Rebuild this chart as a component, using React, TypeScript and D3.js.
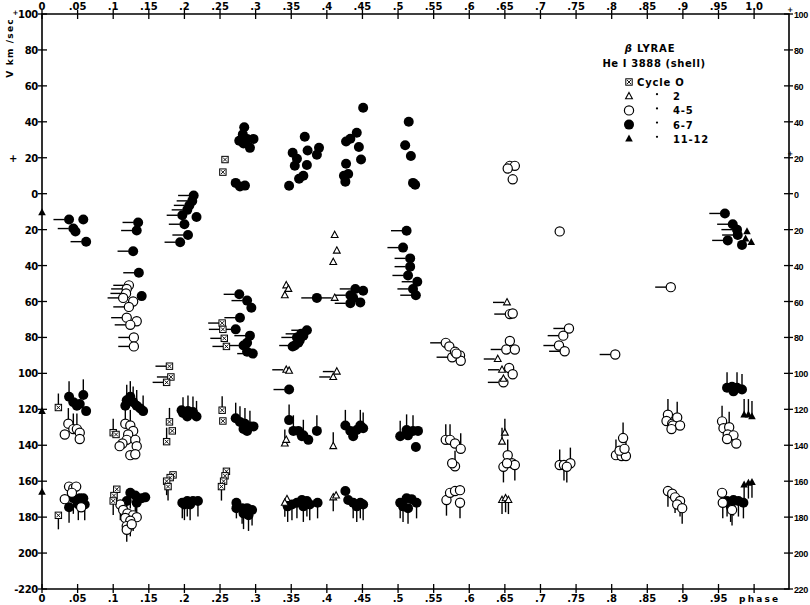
import React from 'react';
import * as d3 from 'd3';

type Pt = [number, number, string];

// phase, velocity (km/s), error-line direction ('l' left, 'u' up, 'd' down, '' none)
const cycle0: Pt[] = [
  [.257,19,''],[.254,12,''],
  [.253,-72,'l'],[.254,-75.5,'l'],[.256,-80.5,'l'],[.259,-85,'l'],
  [.179,-96,'l'],[.181,-102,'l'],[.175,-105,'l'],
  [.023,-119,'u'],[.1,-133,'u'],[.104,-134,''],
  [.179,-127,'u'],[.183,-132,''],[.175,-138,'u'],
  [.253,-120.5,'u'],[.254,-126.5,''],
  [.023,-179,'d'],
  [.105,-164.5,'d'],[.101,-168,''],[.1,-171,'d'],
  [.184,-156.5,''],[.18,-158,''],[.175,-160,'d'],[.177,-163,'d'],
  [.259,-154.5,''],[.257,-157,''],[.255,-160,''],[.252,-163,'d'],
];

const cycle2: Pt[] = [
  [.343,-51,''],[.346,-53,''],[.341,-56.5,''],[.411,-58,'l'],
  [.411,-23,''],[.414,-31.7,''],[.409,-38,''],
  [.343,-98,'l'],[.347,-98.5,''],[.414,-99,'l'],[.409,-102,'l'],
  [.341,-139,'u'],[.343,-137,''],[.409,-140.5,'u'],
  [.344,-170,''],[.341,-172,'d'],[.409,-169,'d'],[.413,-168,''],
  [.653,-60.5,'l'],[.64,-92,'l'],[.646,-98,'l'],[.648,-103,''],
  [.65,-133,'u'],[.646,-138,'u'],
  [.646,-170.5,'d'],[.651,-169.5,'d'],[.655,-170.5,'d'],
];

const cycle45: Pt[] = [
  [.037,-128,'u'],[.032,-134,''],[.044,-131,'u'],[.049,-131,'u'],[.053,-133,''],[.053,-136.5,''],
  [.038,-163,''],[.044,-164,''],[.048,-163,''],[.032,-170,''],[.042,-166.5,''],[.055,-174.5,''],
  [.122,-51,'l'],[.119,-53,'l'],[.118,-55.5,'l'],[.114,-58,'l'],[.128,-60,''],[.122,-63,'l'],
  [.119,-69,'l'],[.133,-71,''],[.124,-73,'l'],[.129,-80,'l'],[.129,-85,'l'],
  [.117,-128,'u'],[.124,-129,'u'],[.128,-132,''],[.121,-134,''],[.119,-137,''],[.113,-139,''],
  [.109,-140.5,''],[.131,-137,''],[.133,-140.5,''],[.124,-145.5,''],[.131,-145,''],
  [.11,-173,'d'],[.114,-176,''],[.12,-178,''],[.128,-179,'d'],[.133,-180,''],[.117,-180.5,''],
  [.124,-182,'d'],[.119,-185,'d'],[.119,-187,''],[.126,-184,''],
  [.567,-83,'l'],[.572,-85,''],[.576,-91,'l'],[.58,-88,''],[.587,-90,''],[.588,-93,''],[.582,-89,''],
  [.567,-137,'u'],[.573,-137,'u'],[.58,-139,''],[.588,-142,'u'],[.58,-151.7,'u'],[.576,-150,''],
  [.568,-170.5,'d'],[.573,-166.5,''],[.58,-165.5,''],[.587,-165,''],[.587,-172,'d'],
  [.657,15.5,''],[.664,15.5,''],[.654,14,''],[.661,8,''],
  [.657,-67,'l'],[.661,-66.7,''],[.657,-82,''],[.652,-86.7,'l'],[.664,-86.7,''],
  [.656,-97,''],[.661,-100.5,''],[.648,-105,'l'],
  [.654,-145.5,'u'],[.66,-150,''],[.664,-151,'d'],[.648,-152,'d'],[.653,-150,''],
  [.727,-21,''],[.74,-75,'l'],[.732,-79,'l'],[.726,-84.5,'l'],[.734,-87.7,'l'],[.805,-89.5,'l'],
  [.727,-151,'u'],[.733,-151,'d'],[.742,-150,'u'],[.737,-152,'d'],
  [.816,-136,'u'],[.806,-145.5,'u'],[.814,-146,''],[.82,-146,'u'],[.811,-143,''],[.818,-142,''],
  [.883,-52,'l'],
  [.879,-123,'u'],[.877,-126.5,''],[.885,-128,''],[.892,-124.5,'u'],[.886,-129,''],[.896,-129,''],[.884,-131,''],
  [.879,-165.5,'d'],[.885,-167,''],[.889,-169,'d'],[.896,-171,'d'],[.892,-173,''],[.899,-175,'d'],
  [.955,-126.7,'u'],[.957,-130.5,''],[.965,-130,'u'],[.963,-134,''],[.971,-134.5,''],[.962,-136.5,''],[.975,-139,''],
  [.955,-166.5,''],[.956,-172,'d'],[.969,-176,'d'],
];

const cycle67: Pt[] = [
  [.038,-14.4,'l'],[.044,-19.4,'l'],[.047,-21,''],[.058,-14.4,''],[.062,-26.7,'l'],
  [.135,-16,'l'],[.133,-20.5,'l'],[.128,-32,'l'],[.136,-44,'l'],[.14,-57,''],
  [.213,-1,'l'],[.211,-4,'l'],[.207,-6.5,'l'],[.204,-9,'l'],[.217,-13,''],[.197,-12,'l'],
  [.2,-17,'l'],[.205,-23,'l'],[.194,-27,'l'],
  [.284,37,''],[.282,33,''],[.277,29.5,''],[.288,30.5,''],[.297,30.5,''],[.292,25.5,''],[.283,28,''],
  [.272,6,''],[.278,4,''],[.285,4.5,''],
  [.369,31.7,''],[.352,22.8,''],[.373,24,''],[.389,25.5,''],[.386,21.7,''],[.358,19.4,''],
  [.372,16,''],[.355,15.5,''],[.367,10,''],[.361,8.3,''],[.347,4.4,''],
  [.451,47.8,''],[.442,33.9,''],[.433,30.6,''],[.427,29,''],[.445,26,''],[.448,19,''],
  [.427,16.7,''],[.43,11,''],[.424,10,''],[.426,6.7,''],
  [.515,40,''],[.51,27,''],[.518,21,''],[.521,6,''],[.524,5,''],
  [.512,-20.6,'l'],[.507,-30,'l'],[.517,-36,'l'],[.517,-40.6,'l'],[.514,-45.5,'l'],
  [.527,-49,'l'],[.521,-53,'l'],[.525,-56.5,'l'],
  [.277,-56,'l'],[.288,-59.5,'l'],[.294,-63.5,''],[.278,-69,'l'],[.272,-75.5,'l'],[.292,-79,'l'],
  [.283,-84.5,'l'],[.288,-83,''],[.296,-89,'l'],[.288,-88,''],
  [.386,-58,'l'],[.44,-53,'l'],[.451,-54,''],[.433,-56.5,'l'],[.437,-58,''],[.447,-60.5,''],[.433,-61,'l'],
  [.372,-76,'l'],[.364,-78,'l'],[.358,-80,'l'],[.362,-81.5,''],[.355,-84.5,'l'],[.352,-85,''],
  [.367,-79,''],[.36,-83,''],
  [.347,-109,'l'],
  [.038,-113,'u'],[.044,-116,''],[.049,-118,''],[.058,-112,'u'],[.053,-117,''],[.062,-121,''],
  [.119,-115,'u'],[.124,-113,'u'],[.128,-116,'u'],[.133,-118,'u'],[.142,-121,'u'],[.138,-119.5,''],[.117,-118,''],
  [.198,-122,'u'],[.205,-121,'u'],[.212,-121.5,'u'],[.217,-124,'u'],[.204,-124,''],[.196,-120.5,''],
  [.272,-125,'u'],[.278,-127,'u'],[.285,-128,'u'],[.292,-129.5,'u'],[.297,-129.5,''],[.283,-131,''],[.288,-132,''],
  [.347,-126,'u'],[.353,-132,'u'],[.36,-132,''],[.367,-134.5,'u'],[.374,-137,''],[.365,-135,''],[.386,-132,'u'],
  [.426,-129,'u'],[.433,-132,''],[.437,-135,''],[.447,-129,'u'],[.451,-130.5,'u'],[.442,-131.5,''],
  [.503,-135,'u'],[.512,-131.5,'u'],[.521,-132,'u'],[.528,-132,''],[.514,-134.5,''],[.525,-141,''],
  [.962,-108,'u'],[.969,-107.5,''],[.976,-108,'u'],[.983,-109,'u'],[.971,-110,''],
  [.044,-169.5,'d'],[.053,-169.5,''],[.058,-169.5,''],[.06,-173,'d'],[.038,-174.5,'d'],[.051,-173,'d'],
  [.124,-166.5,'d'],[.131,-168,'d'],[.14,-169.5,''],[.145,-169,''],[.119,-171,'d'],[.133,-172,'d'],
  [.197,-172,'d'],[.204,-171,'d'],[.212,-171,''],[.219,-171,'d'],[.208,-173,'d'],[.2,-173,'d'],
  [.273,-172,'d'],[.281,-175,'d'],[.288,-175,''],[.295,-176,'d'],[.283,-178,'d'],[.29,-179,'d'],[.273,-175,''],
  [.351,-173,'d'],[.358,-172,'d'],[.365,-170.5,''],[.372,-171,'d'],[.376,-173,'d'],[.387,-172,'d'],
  [.367,-174,'d'],[.345,-174,'d'],
  [.426,-165.5,''],[.43,-170.5,''],[.437,-172,'d'],[.447,-172,'d'],[.451,-173,'d'],[.442,-174,'d'],
  [.503,-172,'d'],[.512,-169.5,''],[.519,-170,''],[.526,-172,'d'],[.507,-174,'d'],[.514,-175,'d'],
  [.962,-171,'d'],[.971,-170.5,'d'],[.978,-171,'d'],[.985,-172,'d'],[.967,-174,'d'],
  [.959,-11,'l'],[.97,-17,'l'],[.976,-20,'l'],[.963,-26,'l'],[.983,-28.5,''],[.977,-23,'l'],
];

const cycle1112: Pt[] = [
  [0.0,-10.5,''],[0.0,-121,''],[0.0,-166,''],
  [.99,-21,''],[.996,-27,''],[.988,-25,''],
  [.986,-123,'u'],[.992,-123,'u'],[.997,-124,'u'],
  [.986,-162,'d'],[.992,-161,'d'],[.997,-160.5,'d'],
];

const phaseTicks = [0,.05,.1,.15,.2,.25,.3,.35,.4,.45,.5,.55,.6,.65,.7,.75,.8,.85,.9,.95,1.0];
const topLabels = ['0','.05','.1','.15','.2','.25','.3','.35','.4','.45','.5','.55','.6','.65','.7','.75','.8','.85','.9','.95','1.0'];
const bottomLabels = ['0','.05','.1','.15','.2','.25','.3','.35','.4','.45','.5','.55','.6','.65','.7','.75','.8','.85','.9','.95',''];
const velTicks = [100,80,60,40,20,0,-20,-40,-60,-80,-100,-120,-140,-160,-180,-200,-220];
const leftLabels = ['100','80','60','40','20','0','20','40','60','80','100','120','140','160','180','200','-220'];
const rightLabels = ['100','80','60','40','20','0','20','40','60','80','100','120','140','160','180','200','220'];
const plusTicks = [100, 20];
const legendCycles = ['Cycle  O','2','4-5','6-7','11-12'];
const legendKinds = ['box','otri','ocirc','fcirc','ftri'];

const W = 810, H = 605;
const x = d3.scaleLinear().domain([0, 1.049]).range([42, 789]);
const y = d3.scaleLinear().domain([-220, 100]).range([589, 14]);

const FONT = 'DejaVu Sans, Arial, sans-serif';
const NARROW = 'Liberation Sans, Arial, sans-serif';

function marker(kind: string, cx: number, cy: number, key: string) {
  switch (kind) {
    case 'box':
      return (
        <g key={key}>
          <rect x={cx - 3.2} y={cy - 3.2} width={6.4} height={6.4} fill="#fff" stroke="#000" strokeWidth={1} />
          <path d={`M${cx - 2},${cy - 2}L${cx + 2},${cy + 2}M${cx + 2},${cy - 2}L${cx - 2},${cy + 2}`} stroke="#000" strokeWidth={0.9} />
        </g>
      );
    case 'otri':
      return <path key={key} d={`M${cx},${cy - 3.8}L${cx + 3.4},${cy + 2.5}L${cx - 3.4},${cy + 2.5}Z`} fill="#fff" stroke="#000" strokeWidth={1.1} />;
    case 'ocirc':
      return <circle key={key} cx={cx} cy={cy} r={4.6} fill="#fff" stroke="#000" strokeWidth={1.2} />;
    case 'fcirc':
      return <circle key={key} cx={cx} cy={cy} r={5} fill="#000" />;
    case 'ftri':
      return <path key={key} d={`M${cx},${cy - 4.2}L${cx + 3.8},${cy + 2.8}L${cx - 3.8},${cy + 2.8}Z`} fill="#000" />;
  }
  return null;
}

function tail(kind: string, dir: string, cx: number, cy: number, key: string) {
  const r = kind === 'box' || kind === 'otri' ? 3 : 4.6;
  const L = 11;
  let d = '';
  if (dir === 'l') d = `M${cx - r - L},${cy}L${cx - r},${cy}`;
  else if (dir === 'u') d = `M${cx},${cy - r - L}L${cx},${cy}`;
  else if (dir === 'd') d = `M${cx},${cy}L${cx},${cy + r + L}`;
  else return null;
  return <path key={key} d={d} stroke="#000" strokeWidth={1.4} fill="none" />;
}

const series: { kind: string; data: Pt[] }[] = [
  { kind: 'fcirc', data: cycle67 },
  { kind: 'ftri', data: cycle1112 },
  { kind: 'ocirc', data: cycle45 },
  { kind: 'box', data: cycle0 },
  { kind: 'otri', data: cycle2 },
];

export default function App() {
  const fs = 10;
  return (
    <svg width={W} height={H} style={{ position: 'absolute', left: 0, top: 0, background: '#fff' }}
      fontFamily={FONT}>
      <rect x={0} y={0} width={W} height={H} fill="#fff" />
      {/* frame */}
      <path d={`M${x(0)},${y(-220)}L${x(0)},${y(100)}L${x(1.049)},${y(100)}L${x(1.049)},${y(-220)}L${x(0)},${y(-220)}`}
        fill="none" stroke="#000" strokeWidth={1.6} />
      {/* phase ticks */}
      {phaseTicks.map((p, i) => (
        <g key={'pt' + i}>
          <line x1={x(p)} x2={x(p)} y1={y(100) - 4} y2={y(100) + 5} stroke="#000" strokeWidth={1.3} />
          <line x1={x(p)} x2={x(p)} y1={y(-220) - 5} y2={y(-220) + 4} stroke="#000" strokeWidth={1.3} />
          <text x={x(p)} y={y(100) - 4} fontSize={fs} fontWeight="bold" textAnchor="middle">{topLabels[i]}</text>
          <text x={x(p)} y={y(-220) + 13} fontSize={fs} fontWeight="bold" textAnchor="middle">{bottomLabels[i]}</text>
        </g>
      ))}
      <text x={739} y={y(-220) + 13} fontSize={9} fontWeight="bold" letterSpacing={2.2}>phase</text>
      {/* velocity ticks */}
      {velTicks.map((v, i) => {
        const plus = plusTicks.includes(v);
        return (
          <g key={'vt' + i}>
            <line x1={x(0) - 4} x2={x(0) + 5} y1={y(v)} y2={y(v)} stroke="#000" strokeWidth={1.3} />
            <line x1={x(1.049) - 5} x2={x(1.049) + 4} y1={y(v)} y2={y(v)} stroke="#000" strokeWidth={1.3} />
            <text x={x(0) - 4} y={y(v) + 4} fontSize={fs} fontWeight="bold" textAnchor="end" letterSpacing={-0.3}>
              {v === 100 ? <tspan fontSize={7} dy={-3}>+</tspan> : null}
              {v === 100 ? <tspan dy={3}>{leftLabels[i]}</tspan> : leftLabels[i]}
            </text>
            {plus ? (
              <text x={x(1.049) + 4} y={y(v) - 2} fontSize={7} fontWeight="bold" textAnchor="end">+</text>
            ) : null}
            <text x={x(1.049) + 5} y={y(v) + 4} fontSize={9} fontWeight="bold" textAnchor="start"
              fontFamily={NARROW} letterSpacing={-0.4}>
              {rightLabels[i]}
            </text>
          </g>
        );
      })}
      <text x={9} y={y(20) + 4} fontSize={fs} fontWeight="bold">+</text>
      {/* axis title */}
      <text transform={`translate(13,${48}) rotate(-90)`} fontSize={9} fontWeight="bold" textAnchor="middle" letterSpacing={1.2}>V km /sec</text>
      {/* tails */}
      {series.map((s, si) => s.data.map((d, i) => tail(s.kind, d[2], x(d[0]), y(d[1]), `t${si}-${i}`)))}
      {/* markers */}
      {series.map((s, si) => s.data.map((d, i) => marker(s.kind, x(d[0]), y(d[1]), `m${si}-${i}`)))}
      {/* legend */}
      <text x={650} y={52} fontSize={10} fontWeight="bold" textAnchor="middle" letterSpacing={0.8}><tspan fontStyle="italic">β</tspan> LYRAE</text>
      <text x={654} y={67} fontSize={10} fontWeight="bold" textAnchor="middle" letterSpacing={0.6}>He I 3888 (shell)</text>
      {legendCycles.map((c, i) => {
        const ly = 82 + i * 14.2;
        return (
          <g key={'lg' + i}>
            {marker(legendKinds[i], 629, ly, 'lm' + i)}
            {i === 0 ? (
              <text x={637} y={ly + 4} fontSize={10} fontWeight="bold" letterSpacing={0.8}>{c}</text>
            ) : (
              <g>
                <circle cx={657} cy={ly - 2} r={1.1} fill="#000" />
                <text x={673} y={ly + 4} fontSize={10} fontWeight="bold" letterSpacing={0.8}>{c}</text>
              </g>
            )}
          </g>
        );
      })}
    </svg>
  );
}
